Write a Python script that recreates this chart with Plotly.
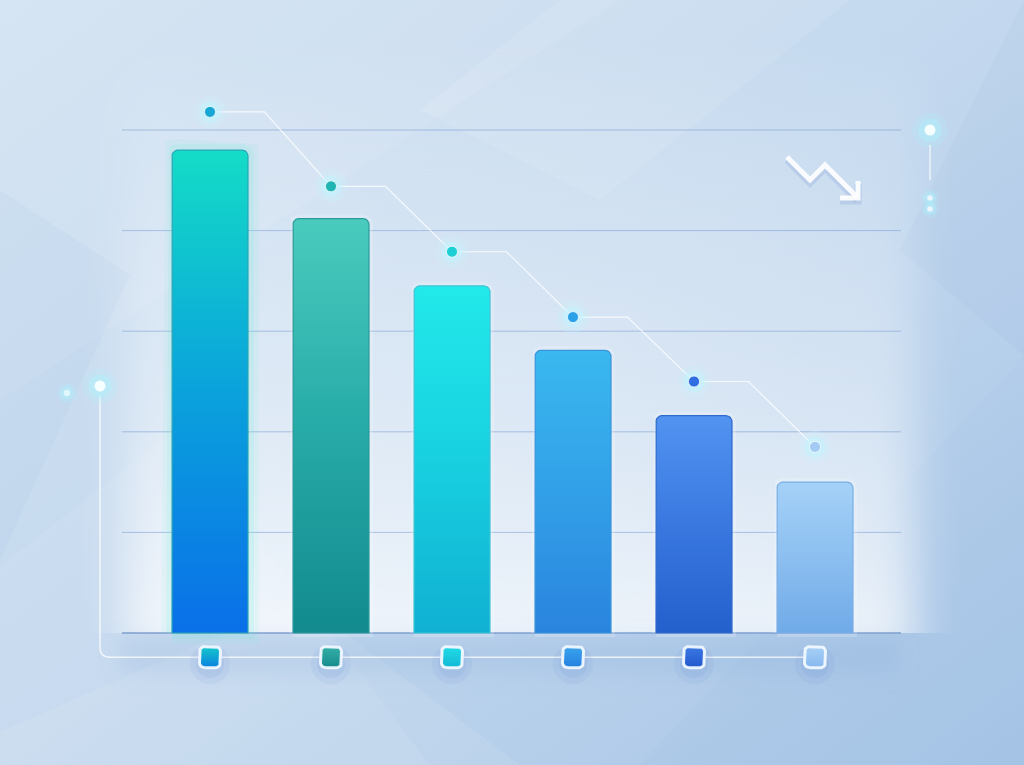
import math
import base64
import plotly.graph_objects as go

# ---- data ----
categories = ["C1", "C2", "C3", "C4", "C5", "C6"]
bar_values = [4.80, 4.12, 3.45, 2.81, 2.16, 1.50]
trend_values = [5.18, 4.44, 3.79, 3.14, 2.50, 1.85]
grid_values = [1, 2, 3, 4, 5]

# bottom / middle / top colours of each bar gradient
bar_bottom = ["#0a6fe8", "#128a8e", "#10b0d2", "#2a84de", "#2460cc", "#70aae8"]
bar_middle = ["#0aa2dc", "#27aba8", "#18d0e0", "#32a0e8", "#3a78e0", "#8cbff0"]
bar_top = ["#14dcc6", "#4acbbe", "#22e9ea", "#3ab8ef", "#5293f1", "#a4d1f7"]
bar_edge = ["#2aa6b6", "#2a9a9a", "#3cc4d6", "#3a94dc", "#2f6acc", "#7aaee6"]
dot_colors = ["#18a6d4", "#20b4b2", "#1ecfd6", "#2aa0e8", "#2f6ee0", "#a2caf2"]
square_top = ["#14c8cc", "#35b0a8", "#22dce4", "#3aa4ec", "#3a78e4", "#a8d0f6"]
square_bottom = ["#0a80e0", "#168a8c", "#12b8d6", "#2680e0", "#2458cc", "#86b8ee"]

W, H = 1024, 765
# pixel layout: category 0 centred at x=210, 121 px per category; value 0 at y=633, 100.6 px per unit
X0, XS = 210, 121
Y0, YS = 633, 100.6
x_range = [-X0 / XS, (W - X0) / XS]
y_range = [(Y0 - H) / YS, Y0 / YS]
grid_x = [(122 - X0) / XS, (901 - X0) / XS]
square_level = -0.24
bar_half = 0.314


def paper(xp, yp):
    return xp / W, 1 - yp / H


def rounded_box(x0, x1, y0, y1, rx, ry, top_only=False, n=6):
    # corners: bottom-left, top-left, top-right, bottom-right
    xs, ys = [], []

    def arc(cx, cy, a0, a1):
        for k in range(n + 1):
            a = a0 + (a1 - a0) * k / n
            xs.append(cx + rx * math.cos(a))
            ys.append(cy + ry * math.sin(a))

    if top_only:
        xs.append(x0); ys.append(y0)
    else:
        arc(x0 + rx, y0 + ry, 1.5 * math.pi, math.pi)
    arc(x0 + rx, y1 - ry, math.pi, 0.5 * math.pi)
    arc(x1 - rx, y1 - ry, 0.5 * math.pi, 0)
    if top_only:
        xs.append(x1); ys.append(y0)
    else:
        arc(x1 - rx, y0 + ry, 0, -0.5 * math.pi)
    xs.append(xs[0]); ys.append(ys[0])
    return xs, ys


def bar_outline(xc, h):
    return rounded_box(xc - bar_half, xc + bar_half, 0, h, 6 / XS, 6 / YS, top_only=True)


# ---- background picture (decoration only) ----
svg = f'''<svg xmlns="http://www.w3.org/2000/svg" width="{W}" height="{H}" viewBox="0 0 {W} {H}" preserveAspectRatio="none">
<defs>
<linearGradient id="bg" x1="0" y1="0" x2="1" y2="1">
<stop offset="0" stop-color="#d3e3f2"/><stop offset="0.5" stop-color="#c3d8ee"/><stop offset="1" stop-color="#a6c4e6"/>
</linearGradient>
<linearGradient id="glow" x1="0" y1="0" x2="0" y2="1">
<stop offset="0" stop-color="#ffffff" stop-opacity="0.05"/><stop offset="0.6" stop-color="#ffffff" stop-opacity="0.45"/><stop offset="1" stop-color="#ffffff" stop-opacity="0.8"/>
</linearGradient>
<filter id="blur" x="-30%" y="-30%" width="160%" height="160%"><feGaussianBlur stdDeviation="22"/></filter>
<filter id="blur2" x="-30%" y="-100%" width="160%" height="300%"><feGaussianBlur stdDeviation="10"/></filter>
<clipPath id="top"><rect x="0" y="0" width="{W}" height="{Y0}"/></clipPath>
</defs>
<rect width="{W}" height="{H}" fill="url(#bg)"/>
<polygon points="0,0 620,0 0,400" fill="#ffffff" fill-opacity="0.08"/>
<polygon points="560,0 850,0 600,200 420,110" fill="#ffffff" fill-opacity="0.10"/>
<polygon points="1024,0 1024,356 900,250" fill="#8fb2dc" fill-opacity="0.10"/>
<polygon points="1024,356 1024,765 640,765" fill="#8fb2dc" fill-opacity="0.07"/>
<polygon points="0,190 130,275 0,560" fill="#8fb2dc" fill-opacity="0.08"/>
<polygon points="0,566 175,430 430,765 0,765" fill="#ffffff" fill-opacity="0.07"/>
<polygon points="0,732 300,600 520,765 0,765" fill="#ffffff" fill-opacity="0.09"/>
<g clip-path="url(#top)"><rect x="125" y="70" width="790" height="600" fill="url(#glow)" filter="url(#blur)"/></g>
<rect x="120" y="638" width="780" height="36" fill="#7ea2d4" fill-opacity="0.16" filter="url(#blur2)"/>
</svg>'''
bg_uri = "data:image/svg+xml;base64," + base64.b64encode(svg.encode()).decode()

fig = go.Figure()

# gridlines + baseline
for v in grid_values:
    fig.add_shape(type="line", xref="x", yref="y", x0=grid_x[0], x1=grid_x[1], y0=v, y1=v,
                  line=dict(color="rgba(120,155,210,0.55)", width=1), layer="below")
fig.add_shape(type="line", xref="x", yref="y", x0=grid_x[0], x1=grid_x[1], y0=0, y1=0,
              line=dict(color="#7f9fcf", width=1.5), layer="below")

# soft glow around the bars
for i, v in enumerate(bar_values):
    xs, ys = bar_outline(i, v)
    if i == 0:
        for w, a in [(22, 0.07), (12, 0.12)]:
            fig.add_trace(go.Scatter(x=xs, y=ys, mode="lines", hoverinfo="skip", showlegend=False,
                                     line=dict(color=f"rgba(90,235,215,{a})", width=w)))
    else:
        fig.add_trace(go.Scatter(x=xs, y=ys, mode="lines", hoverinfo="skip", showlegend=False,
                                 line=dict(color="rgba(255,255,255,0.18)", width=8)))

# bars with vertical gradient
for i, v in enumerate(bar_values):
    xs, ys = bar_outline(i, v)
    fig.add_trace(go.Scatter(
        x=xs, y=ys, mode="lines", fill="toself", name=categories[i], showlegend=False,
        line=dict(color=bar_edge[i], width=1.2),
        fillgradient=dict(type="vertical",
                          colorscale=[[0, bar_bottom[i]], [0.5, bar_middle[i]], [1, bar_top[i]]]),
    ))

# trend connector: short flat step then diagonal down to next dot
tx, ty = [], []
for i in range(len(trend_values) - 1):
    tx += [i, i + 0.45]
    ty += [trend_values[i], trend_values[i]]
tx.append(len(trend_values) - 1)
ty.append(trend_values[-1])
fig.add_trace(go.Scatter(x=tx, y=ty, mode="lines", hoverinfo="skip", showlegend=False,
                         line=dict(color="rgba(255,255,255,0.8)", width=1.2)))

idx = list(range(len(categories)))
for size, col in [(32, "rgba(200,245,255,0.22)"), (21, "rgba(190,245,255,0.5)")]:
    fig.add_trace(go.Scatter(x=idx, y=trend_values, mode="markers", hoverinfo="skip", showlegend=False,
                             marker=dict(size=size, color=col, line=dict(width=0))))
fig.add_trace(go.Scatter(x=idx, y=trend_values, mode="markers", showlegend=False,
                         marker=dict(size=11, color=dot_colors,
                                     line=dict(color="rgba(255,255,255,0.7)", width=1))))

# bottom bracket line through the category squares
bx = -110 / XS
by = (Y0 - 396) / YS
rx, ry = 10 / XS, 10 / YS
fig.add_shape(type="path", xref="x", yref="y", layer="below",
              path=f"M {bx},{by} L {bx},{square_level + ry} Q {bx},{square_level} {bx + rx},{square_level} L {idx[-1]},{square_level}",
              line=dict(color="rgba(255,255,255,0.75)", width=1.5))

# category squares (rounded, white rim) with a soft shadow
for size, a in [(40, 0.06), (28, 0.08)]:
    fig.add_trace(go.Scatter(x=idx, y=[square_level - 0.07] * len(idx), mode="markers", hoverinfo="skip",
                             showlegend=False,
                             marker=dict(size=size, color=f"rgba(60,110,210,{a})", line=dict(width=0))))
sw, sh = 10.5 / XS, 10.5 / YS
for i in idx:
    xs, ys = rounded_box(i - sw, i + sw, square_level - sh, square_level + sh, 5 / XS, 5 / YS)
    fig.add_trace(go.Scatter(
        x=xs, y=ys, mode="lines", fill="toself", hoverinfo="skip", showlegend=False,
        line=dict(color="rgba(240,248,255,0.95)", width=3),
        fillgradient=dict(type="vertical", colorscale=[[0, square_bottom[i]], [1, square_top[i]]]),
    ))


# ---- decorations ----
def glow_dot(xp, yp, r, core="#f6ffff"):
    for k, a in [(3.2, 0.18), (2.1, 0.35)]:
        x0, y0 = paper(xp - r * k, yp - r * k)
        x1, y1 = paper(xp + r * k, yp + r * k)
        fig.add_shape(type="circle", xref="paper", yref="paper", x0=x0, y0=y1, x1=x1, y1=y0,
                      fillcolor=f"rgba(170,245,255,{a})", line=dict(width=0))
    x0, y0 = paper(xp - r, yp - r)
    x1, y1 = paper(xp + r, yp + r)
    fig.add_shape(type="circle", xref="paper", yref="paper", x0=x0, y0=y1, x1=x1, y1=y0,
                  fillcolor=core, line=dict(width=0))


glow_dot(100, 386, 5.5)
glow_dot(930, 130, 5.5)
glow_dot(67, 393, 3.2, core="#dff6fb")
glow_dot(930, 198, 2.8, core="#eaf5fd")
glow_dot(930, 209, 2.8, core="#eaf5fd")
lx0, ly0 = paper(930, 145)
lx1, ly1 = paper(930, 180)
fig.add_shape(type="line", xref="paper", yref="paper", x0=lx0, y0=ly0, x1=lx1, y1=ly1,
              line=dict(color="rgba(255,255,255,0.7)", width=1.5))

# small trend-down icon
zig = [(787, 157), (810, 180), (825, 165), (857, 197)]
head = [(840, 198), (858, 198), (858, 181)]


def path_of(pts, dy=0):
    out = []
    for k, (xp, yp) in enumerate(pts):
        px_, py_ = paper(xp, yp + dy)
        out.append(("M" if k == 0 else "L") + f" {px_},{py_}")
    return " ".join(out)


for dy, col, w in [(3, "rgba(90,130,200,0.18)", 7), (0, "rgba(255,255,255,0.92)", 5)]:
    fig.add_shape(type="path", xref="paper", yref="paper", path=path_of(zig, dy),
                  line=dict(color=col, width=w))
    fig.add_shape(type="path", xref="paper", yref="paper", path=path_of(head, dy),
                  line=dict(color=col, width=w))

fig.update_layout(
    width=W, height=H,
    margin=dict(l=0, r=0, t=0, b=0),
    paper_bgcolor="rgba(0,0,0,0)",
    plot_bgcolor="rgba(0,0,0,0)",
    showlegend=False,
    xaxis=dict(range=x_range, visible=False, fixedrange=True),
    yaxis=dict(range=y_range, visible=False, fixedrange=True),
    images=[dict(source=bg_uri, xref="paper", yref="paper", x=0, y=1, sizex=1, sizey=1,
                 xanchor="left", yanchor="top", sizing="stretch", layer="below")],
)

fig.write_html("out.html", config={"displayModeBar": False},
               post_script="document.body.style.margin='0';")
